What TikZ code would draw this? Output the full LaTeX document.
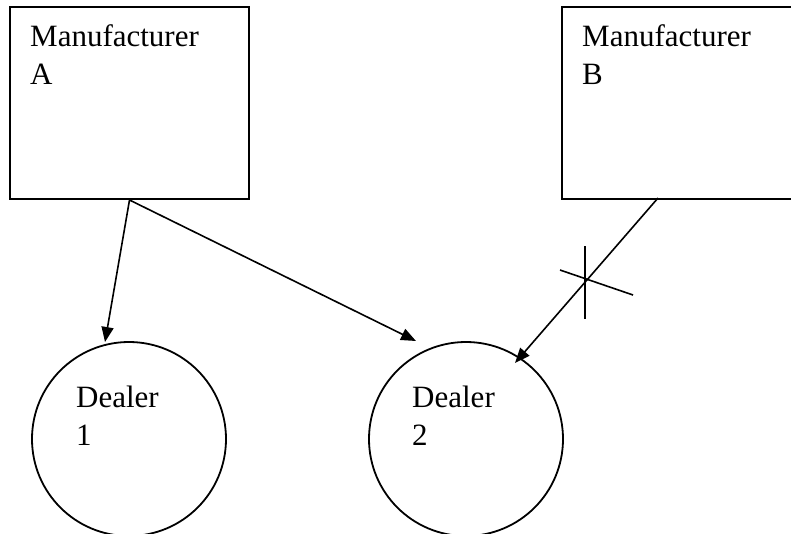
\documentclass[tikz,border=0pt]{standalone}
\usepackage{fontspec}
\setmainfont{Liberation Serif}
\usetikzlibrary{arrows.meta}
\begin{document}
\begin{tikzpicture}[x=1pt,y=-1pt,
  boxshape/.style={draw,line width=2pt,minimum width=#1,minimum height=192pt,inner sep=0pt,anchor=north west},
  dealer/.style={draw,circle,line width=1.8pt,minimum size=194pt,inner sep=0pt},
  lbl/.style={anchor=base west,inner sep=0pt,align=left,font=\fontsize{31pt}{38pt}\selectfont},
  conn/.style={line width=1.6pt,-{Triangle[length=15pt,width=12pt]}},
  crossline/.style={line width=1.6pt}]
\useasboundingbox (0,0) rectangle (791,533);
\node[boxshape=239pt] (A) at (9,6) {};
\node[boxshape=240pt] (B) at (561,6) {};
\node[lbl] (tA) at (30,84) {Manufacturer\\A};
\node[lbl] (tB) at (582,84) {Manufacturer\\B};
\node[dealer] (d1) at (129,439) {};
\node[dealer] (d2) at (466,439) {};
\node[lbl] (t1) at (76,445) {Dealer\\1};
\node[lbl] (t2) at (412,445) {Dealer\\2};
\coordinate (e1) at (105,342);
\coordinate (e2) at (416,341);
\coordinate (sB) at (658,198);
\coordinate (e3) at (515,363);
\coordinate (c1) at (585,246);
\coordinate (c2) at (585,319);
\coordinate (c3) at (560,270);
\coordinate (c4) at (633,295);
\draw[conn] (A.south) -- (e1);
\draw[conn] (A.south) -- (e2);
\draw[conn] (sB) -- (e3);
\draw[crossline] (c1) -- (c2);
\draw[crossline] (c3) -- (c4);
\end{tikzpicture}
\end{document}
